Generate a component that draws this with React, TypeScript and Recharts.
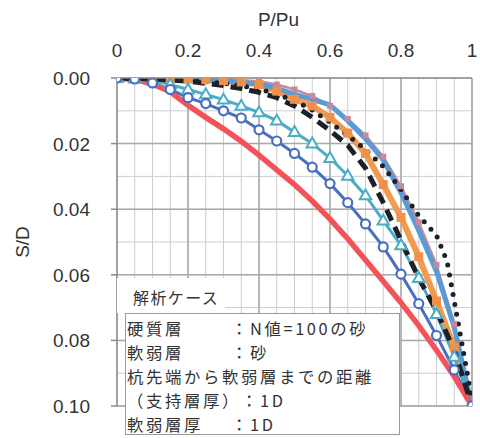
import { LineChart, Line, XAxis, YAxis, CartesianGrid, ReferenceLine } from 'recharts';

// P/Pu sample points (shared by most cases)
const P_STEP = [0, 0.05, 0.1, 0.15, 0.2, 0.25, 0.3, 0.35, 0.4, 0.45, 0.5, 0.55, 0.6, 0.65, 0.7, 0.75, 0.8, 0.85, 0.9, 0.95, 1.0];
// the dotted case bends sharply near the end, so it has its own points
const P_DOTTED = [0, 0.1, 0.2, 0.3, 0.4, 0.5, 0.55, 0.6, 0.65, 0.7, 0.75, 0.8, 0.85, 0.9, 0.93, 0.95, 0.97, 0.99, 1.0];

// S/D values
const S_RED = [0, 0.0005, 0.0018, 0.0042, 0.0083, 0.012, 0.0155, 0.0193, 0.0235, 0.028, 0.0325, 0.0375, 0.043, 0.049, 0.0555, 0.062, 0.0685, 0.0755, 0.083, 0.091, 0.1];
const S_CIRCLE = [0, 0.0003, 0.0015, 0.0035, 0.006, 0.0078, 0.01, 0.0122, 0.0158, 0.0192, 0.023, 0.0272, 0.0322, 0.038, 0.0445, 0.0515, 0.0598, 0.0688, 0.0785, 0.089, 0.1];
const S_TRIANGLE = [0, 0.0002, 0.0008, 0.002, 0.0035, 0.005, 0.0066, 0.0085, 0.0105, 0.013, 0.0165, 0.02, 0.0244, 0.0298, 0.0358, 0.0435, 0.051, 0.061, 0.072, 0.085, 0.1];
const S_DASHED = [0, 0.0001, 0.0003, 0.0006, 0.001, 0.0016, 0.0023, 0.0032, 0.0044, 0.006, 0.0085, 0.012, 0.016, 0.0205, 0.0275, 0.038, 0.0495, 0.061, 0.071, 0.083, 0.1];
const S_ORANGE = [0, 0, 0.0001, 0.0002, 0.0003, 0.0005, 0.0008, 0.0012, 0.002, 0.004, 0.0065, 0.0085, 0.012, 0.0168, 0.023, 0.0325, 0.0425, 0.0545, 0.068, 0.082, 0.1];
const S_LIGHTBLUE = [0, 0, 0.0001, 0.0002, 0.0004, 0.0006, 0.0009, 0.0013, 0.0018, 0.0032, 0.005, 0.0065, 0.0082, 0.013, 0.0185, 0.025, 0.035, 0.0465, 0.059, 0.076, 0.1];
const S_PINK = [0, 0, 0, 0.0001, 0.0002, 0.0003, 0.0005, 0.0007, 0.001, 0.002, 0.0035, 0.0055, 0.0085, 0.0125, 0.0175, 0.024, 0.033, 0.044, 0.057, 0.075, 0.1];
const S_DOTTED = [0, 0.0002, 0.0007, 0.0016, 0.0033, 0.0068, 0.0098, 0.0135, 0.0175, 0.0218, 0.027, 0.034, 0.042, 0.048, 0.056, 0.068, 0.08, 0.092, 0.1];

const X_TICKS = P_STEP;
const Y_TICKS = [0, 0.01, 0.02, 0.03, 0.04, 0.05, 0.06, 0.07, 0.08, 0.09, 0.1];
const X_MAJOR = [0.2, 0.4, 0.6, 0.8];
const Y_MAJOR = [0.02, 0.04, 0.06, 0.08];

const NOTE_TITLE = '解析ケース';
const NOTE_ROWS = [
  { label: '硬質層', value: '：N値=100の砂', align: true },
  { label: '軟弱層', value: '：砂', align: true },
  { label: '杭先端から軟弱層までの距離', value: '', align: false },
  { label: '（支持層厚）', value: '：1D', align: false },
  { label: '軟弱層厚', value: '：1D', align: true },
];

const toData = (ps: number[], ss: number[]) => ps.map((p, i) => ({ p, s: ss[i] }));

const AXIS_FONT = "'Liberation Sans', Arial, sans-serif";
const JP_FONT = "'Noto Sans CJK JP', 'Noto Sans', sans-serif";

const formatX = (v: number) => {
  const k = Math.round(v * 100);
  if (k % 20 !== 0) return '';
  if (k === 0) return '0';
  if (k === 100) return '1';
  return v.toFixed(1);
};

const YTick = (props: any) => {
  const { x, y, payload } = props;
  const k = Math.round(payload.value * 100);
  if (k % 2 !== 0) return <g />;
  return (
    <g>
      <line x1={x + 21} x2={x + 27} y1={y} y2={y} stroke="#8a8a8a" strokeWidth={1.5} />
      <text x={x} y={y} dy={7} textAnchor="end" fontSize={19} fill="#333" fontFamily={AXIS_FONT}>
        {payload.value.toFixed(2)}
      </text>
    </g>
  );
};

const CircleDot = (props: any) => {
  const { cx, cy, index } = props;
  return <circle key={`c-${index}`} cx={cx} cy={cy} r={4.5} fill="#fff" stroke="#4a6fc0" strokeWidth={2.2} />;
};

const TriangleDot = (props: any) => {
  const { cx, cy, index } = props;
  const r = 6;
  return (
    <polygon
      key={`t-${index}`}
      points={`${cx},${cy - r} ${cx + r * 0.95},${cy + r * 0.65} ${cx - r * 0.95},${cy + r * 0.65}`}
      fill="#fff"
      stroke="#4bacc6"
      strokeWidth={2}
    />
  );
};

const SquareDot = (color: string, size: number) => (props: any) => {
  const { cx, cy, index } = props;
  return <rect key={`s-${color}-${index}`} x={cx - size / 2} y={cy - size / 2} width={size} height={size} fill={color} />;
};

export default function App() {
  return (
    <div style={{ position: 'absolute', left: 0, top: 0, width: 480, height: 438, background: '#fff' }}>
      <LineChart width={480} height={438} margin={{ top: 0, right: 8, bottom: 32, left: 0 }}>
        <CartesianGrid stroke="#cdcdcd" strokeWidth={1} />
        {X_MAJOR.map((v) => (
          <ReferenceLine key={`xm-${v}`} x={v} stroke="#a9a9a9" strokeWidth={1.5} />
        ))}
        {Y_MAJOR.map((v) => (
          <ReferenceLine key={`ym-${v}`} y={v} stroke="#a9a9a9" strokeWidth={1.5} />
        ))}
        <ReferenceLine x={1} stroke="#a0a0a0" strokeWidth={1.5} />
        <ReferenceLine y={0.1} stroke="#a0a0a0" strokeWidth={1.5} />
        <XAxis
          type="number"
          dataKey="p"
          orientation="top"
          domain={[0, 1]}
          ticks={X_TICKS}
          tickFormatter={formatX}
          interval={0}
          height={78}
          tickLine={false}
          tickSize={0}
          tickMargin={21}
          axisLine={{ stroke: '#8a8a8a', strokeWidth: 1.5 }}
          tick={{ fontSize: 19, fill: '#333', fontFamily: AXIS_FONT }}
          allowDataOverflow
          label={{
            content: (p: any) => {
              const vb = p.viewBox;
              return (
                <text x={vb.x + vb.width / 2 - 16} y={vb.y + 26} textAnchor="middle" fontSize={19} fill="#333" fontFamily={AXIS_FONT}>
                  P/Pu
                </text>
              );
            },
          }}
        />
        <YAxis
          type="number"
          dataKey="s"
          domain={[0, 0.1]}
          reversed
          ticks={Y_TICKS}
          interval={0}
          width={117}
          tickLine={false}
          tickSize={6}
          tickMargin={21}
          axisLine={{ stroke: '#8a8a8a', strokeWidth: 1.5 }}
          tick={<YTick />}
          allowDataOverflow
          label={{
            content: (p: any) => {
              const vb = p.viewBox;
              const cx = vb.x + 22;
              const cy = vb.y + vb.height / 2;
              return (
                <text x={cx} y={cy} transform={`rotate(-90, ${cx}, ${cy})`} textAnchor="middle" dominantBaseline="central" fontSize={19} fill="#333" fontFamily={AXIS_FONT}>
                  S/D
                </text>
              );
            },
          }}
        />
        <Line data={toData(P_STEP, S_PINK)} dataKey="s" stroke="#c58aa0" strokeWidth={2.5} dot={SquareDot('#c58aa0', 6)} isAnimationActive={false} />
        <Line data={toData(P_STEP, S_ORANGE)} dataKey="s" stroke="#f29a50" strokeWidth={6} dot={SquareDot('#f0904a', 9)} isAnimationActive={false} />
        <Line data={toData(P_STEP, S_LIGHTBLUE)} dataKey="s" stroke="#5b9bd5" strokeWidth={5} dot={false} isAnimationActive={false} />
        <Line data={toData(P_STEP, S_TRIANGLE)} dataKey="s" stroke="#4bacc6" strokeWidth={3} dot={<TriangleDot />} isAnimationActive={false} />
        <Line data={toData(P_STEP, S_CIRCLE)} dataKey="s" stroke="#4a6fc0" strokeWidth={3} dot={<CircleDot />} isAnimationActive={false} />
        <Line data={toData(P_STEP, S_RED)} dataKey="s" stroke="#f25258" strokeWidth={5.5} dot={false} isAnimationActive={false} />
        <Line data={toData(P_STEP, S_DASHED)} dataKey="s" stroke="#1e2028" strokeWidth={5} strokeDasharray="12 7" dot={false} isAnimationActive={false} />
        <Line data={toData(P_DOTTED, S_DOTTED)} dataKey="s" stroke="#1e2028" strokeWidth={5} strokeDasharray="0 10" strokeLinecap="round" dot={false} isAnimationActive={false} />
      </LineChart>

      <div
        style={{
          position: 'absolute',
          left: 117,
          top: 278,
          width: 108,
          height: 35,
          background: '#fff',
          boxSizing: 'border-box',
          paddingLeft: 16,
          paddingTop: 7,
          fontFamily: JP_FONT,
          fontSize: 16,
          letterSpacing: 1.4,
          lineHeight: '24px',
          color: '#333',
        }}
      >
        {NOTE_TITLE}
      </div>
      <div
        style={{
          position: 'absolute',
          left: 125,
          top: 313,
          width: 275,
          height: 122,
          background: '#fff',
          border: '1px solid #9a9a9a',
          boxSizing: 'border-box',
          paddingLeft: 1,
          paddingTop: 2,
          fontFamily: JP_FONT,
          fontSize: 16.4,
          letterSpacing: 2.6,
          lineHeight: '24px',
          color: '#333',
          whiteSpace: 'nowrap',
        }}
      >
        {NOTE_ROWS.map((row) => (
          <div key={row.label}>
            <span style={{ display: 'inline-block', width: row.align ? 104 : undefined }}>{row.label}</span>
            <span>{row.value}</span>
          </div>
        ))}
      </div>
    </div>
  );
}
